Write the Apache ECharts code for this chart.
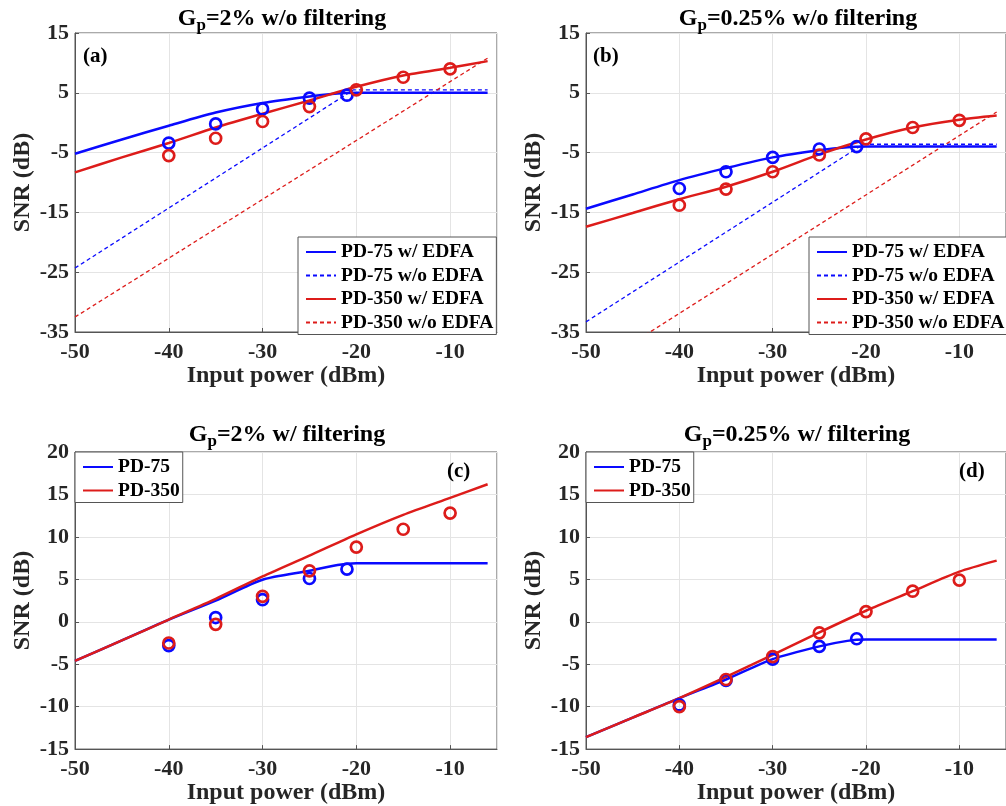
<!DOCTYPE html>
<html>
<head>
<meta charset="utf-8">
<script src="https://cdn.jsdelivr.net/npm/echarts@6/dist/echarts.min.js"></script>
<style>
html,body{margin:0;padding:0;background:#fff;}
#main{width:1006px;height:806px;}
</style>
</head>
<body>
<div id="main"></div>
<script>
var FONT = 'Liberation Serif';
var BLUE = '#0a0aff';
var RED = '#dd1c1a';

// x positions of the fitted curves and the measured points
var xFitBlue = [-50, -45, -40, -35, -30, -25, -22, -20, -15, -10, -6];
var xFitRed = [-50, -45, -40, -35, -30, -25, -20, -15, -10, -6];
var xMeasBlue = [-40, -35, -30, -25, -21];
var xMeasRed = [-40, -35, -30, -25, -20, -15, -10];
var xDashBlue = [-50, -20.3, -6];
var xDashRed = [-50, -6];

// (a) Gp=2% w/o filtering
var aBlueFit = [-5.2, -2.8, -0.5, 1.7, 3.3, 4.4, 4.9, 5.0, 5.0, 5.0, 5.0];
var aRedFit = [-8.3, -5.8, -3.4, -0.8, 1.5, 3.7, 6.0, 7.9, 9.2, 10.3];
var aBlueDash = [-24.3, 5.5, 5.5];
var aRedDash = [-32.5, 10.8];
var aBlueMeas = [-3.4, -0.2, 2.3, 4.1, 4.6];
var aRedMeas = [-5.5, -2.6, 0.2, 2.7, 5.5, 7.6, 9.0];

// (b) Gp=0.25% w/o filtering
var bBlueFit = [-14.4, -12.0, -9.6, -7.6, -5.8, -4.6, -4.1, -4.0, -4.0, -4.0, -4.0];
var bRedFit = [-17.4, -15.1, -12.8, -10.7, -8.2, -5.3, -2.8, -0.8, 0.5, 1.2];
var bBlueDash = [-33.3, -3.6, -3.6];
var bRedDash = [-41.8, 1.8];
var bBlueMeas = [-11.0, -8.2, -5.8, -4.4, -4.0];
var bRedMeas = [-13.8, -11.1, -8.2, -5.4, -2.7, -0.8, 0.4];

// (c) Gp=2% w/ filtering
var cBlueFit = [-4.6, -2.2, 0.25, 2.5, 4.95, 6.0, 6.7, 6.9, 6.9, 6.9, 6.9];
var cRedFit = [-4.6, -2.2, 0.26, 2.7, 5.35, 7.8, 10.3, 12.6, 14.6, 16.2];
var cBlueMeas = [-2.8, 0.5, 2.6, 5.1, 6.2];
var cRedMeas = [-2.5, -0.3, 3.0, 6.0, 8.8, 10.9, 12.8];

// (d) Gp=0.25% w/ filtering
var dBlueFit = [-13.6, -11.3, -9.0, -6.8, -4.4, -2.9, -2.25, -2.1, -2.1, -2.1, -2.1];
var dRedFit = [-13.6, -11.3, -9.0, -6.5, -3.9, -1.25, 1.3, 3.6, 5.9, 7.2];
var dBlueMeas = [-9.8, -6.9, -4.4, -2.9, -2.0];
var dRedMeas = [-10.0, -6.8, -4.1, -1.3, 1.2, 3.6, 4.9];

var legendTop = ['PD-75 w/ EDFA', 'PD-75 w/o EDFA', 'PD-350 w/ EDFA', 'PD-350 w/o EDFA'];
var legendBottom = ['PD-75', 'PD-350'];

function zip(xs, ys) {
	var out = [];
	for (var i = 0; i < xs.length; i++) out.push([xs[i], ys[i]]);
	return out;
}

var grids = [
	{left: 75, top: 33, width: 422, height: 299},
	{left: 586, top: 33, width: 423, height: 299},
	{left: 75, top: 452, width: 422, height: 298},
	{left: 586, top: 452, width: 423, height: 298}
];
grids.forEach(function (g) {
	g.show = true;
	g.borderColor = '#555';
	g.borderWidth = 1;
	g.backgroundColor = '#fff';
});

var labelStyle = {fontFamily: FONT, fontWeight: 'bold', fontSize: 22, color: '#262626'};
var nameStyle = {fontFamily: FONT, fontWeight: 'bold', fontSize: 24, color: '#262626'};

function xAx(i) {
	return {
		type: 'value', gridIndex: i, min: -50, max: -5, interval: 10,
		name: 'Input power (dBm)', nameLocation: 'middle', nameGap: 28, nameTextStyle: nameStyle,
		axisLine: {show: true, onZero: false, lineStyle: {color: '#555', width: 1}},
		axisTick: {show: true, inside: true, length: 4, lineStyle: {color: '#555'}},
		axisLabel: Object.assign({margin: 9, showMaxLabel: false}, labelStyle),
		splitLine: {show: true, lineStyle: {color: '#e4e4e4', width: 1}}
	};
}
function yAx(i, min, max, step) {
	return {
		type: 'value', gridIndex: i, min: min, max: max, interval: step,
		name: 'SNR (dB)', nameLocation: 'middle', nameGap: 40, nameTextStyle: nameStyle,
		axisLine: {show: true, onZero: false, lineStyle: {color: '#555', width: 1}},
		axisTick: {show: true, inside: true, length: 4, lineStyle: {color: '#555'}},
		axisLabel: Object.assign({margin: 6}, labelStyle),
		splitLine: {show: true, lineStyle: {color: '#e4e4e4', width: 1}}
	};
}

function fit(name, i, xs, ys, color) {
	return {name: name, type: 'line', xAxisIndex: i, yAxisIndex: i, data: zip(xs, ys),
		symbol: 'none', smooth: 0.25, lineStyle: {color: color, width: 2.5}, itemStyle: {color: color}, z: 3};
}
function dash(name, i, xs, ys, color) {
	return {name: name, type: 'line', xAxisIndex: i, yAxisIndex: i, data: zip(xs, ys),
		symbol: 'none', lineStyle: {color: color, width: 1.3, type: [4, 3]}, itemStyle: {color: color}, z: 2};
}
function meas(name, i, xs, ys, color) {
	return {name: name, type: 'scatter', xAxisIndex: i, yAxisIndex: i, data: zip(xs, ys),
		symbol: 'circle', symbolSize: 11,
		itemStyle: {color: 'rgba(255,255,255,0)', borderColor: color, borderWidth: 2.7, opacity: 1}, z: 4};
}

var series = [
	fit('PD-75 w/ EDFA', 0, xFitBlue, aBlueFit, BLUE),
	dash('PD-75 w/o EDFA', 0, xDashBlue, aBlueDash, BLUE),
	fit('PD-350 w/ EDFA', 0, xFitRed, aRedFit, RED),
	dash('PD-350 w/o EDFA', 0, xDashRed, aRedDash, RED),
	meas('m75a', 0, xMeasBlue, aBlueMeas, BLUE),
	meas('m350a', 0, xMeasRed, aRedMeas, RED),

	fit('PD-75 w/ EDFA', 1, xFitBlue, bBlueFit, BLUE),
	dash('PD-75 w/o EDFA', 1, xDashBlue, bBlueDash, BLUE),
	fit('PD-350 w/ EDFA', 1, xFitRed, bRedFit, RED),
	dash('PD-350 w/o EDFA', 1, xDashRed, bRedDash, RED),
	meas('m75b', 1, xMeasBlue, bBlueMeas, BLUE),
	meas('m350b', 1, xMeasRed, bRedMeas, RED),

	fit('PD-75', 2, xFitBlue, cBlueFit, BLUE),
	fit('PD-350', 2, xFitRed, cRedFit, RED),
	meas('m75c', 2, xMeasBlue, cBlueMeas, BLUE),
	meas('m350c', 2, xMeasRed, cRedMeas, RED),

	fit('PD-75', 3, xFitBlue, dBlueFit, BLUE),
	fit('PD-350', 3, xFitRed, dRedFit, RED),
	meas('m75d', 3, xMeasBlue, dBlueMeas, BLUE),
	meas('m350d', 3, xMeasRed, dRedMeas, RED)
];

function legend(left, top, names) {
	return {
		data: names, left: left, top: top, orient: 'vertical',
		itemWidth: 30, itemHeight: 12, itemGap: 3.5, padding: [5, 3, 2, 7],
		borderColor: '#555', borderWidth: 1, borderRadius: 0, backgroundColor: '#fff',
		selectedMode: false,
		itemStyle: {opacity: 0},
		textStyle: {fontFamily: FONT, fontWeight: 'bold', fontSize: 19.5, color: '#000'}
	};
}

var rich = {
	g: {fontFamily: FONT, fontWeight: 'bold', fontSize: 24, color: '#000', lineHeight: 26, verticalAlign: 'top'},
	p: {fontFamily: FONT, fontWeight: 'bold', fontSize: 17, color: '#000', lineHeight: 18, padding: [12, 0, 0, 0]}
};
function title(x, y, rest) {
	return {type: 'text', x: x, y: y, z: 10,
		style: {text: '{g|G}{p|p}{g|' + rest + '}', rich: rich, align: 'center', verticalAlign: 'top'}};
}
function tag(x, y, t) {
	return {type: 'text', x: x, y: y, z: 10,
		style: {text: t, fontFamily: FONT, fontWeight: 'bold', fontSize: 21, fill: '#000', align: 'left', verticalAlign: 'middle'}};
}

var chart = echarts.init(document.getElementById('main'));
chart.setOption({
	animation: false,
	backgroundColor: '#fff',
	grid: grids,
	xAxis: [xAx(0), xAx(1), xAx(2), xAx(3)],
	yAxis: [yAx(0, -35, 15, 10), yAx(1, -35, 15, 10), yAx(2, -15, 20, 5), yAx(3, -15, 20, 5)],
	legend: [legend(298, 237, legendTop), legend(809, 237, legendTop), legend(75, 452, legendBottom), legend(586, 452, legendBottom)],
	graphic: [
		title(282, 7, '=2% w/o filtering'),
		title(798, 7, '=0.25% w/o filtering'),
		title(287, 423, '=2% w/ filtering'),
		title(797, 423, '=0.25% w/ filtering'),
		tag(83, 57, '(a)'),
		tag(593, 57, '(b)'),
		tag(447, 472, '(c)'),
		tag(959, 472, '(d)')
	],
	series: series
});
</script>
</body>
</html>
